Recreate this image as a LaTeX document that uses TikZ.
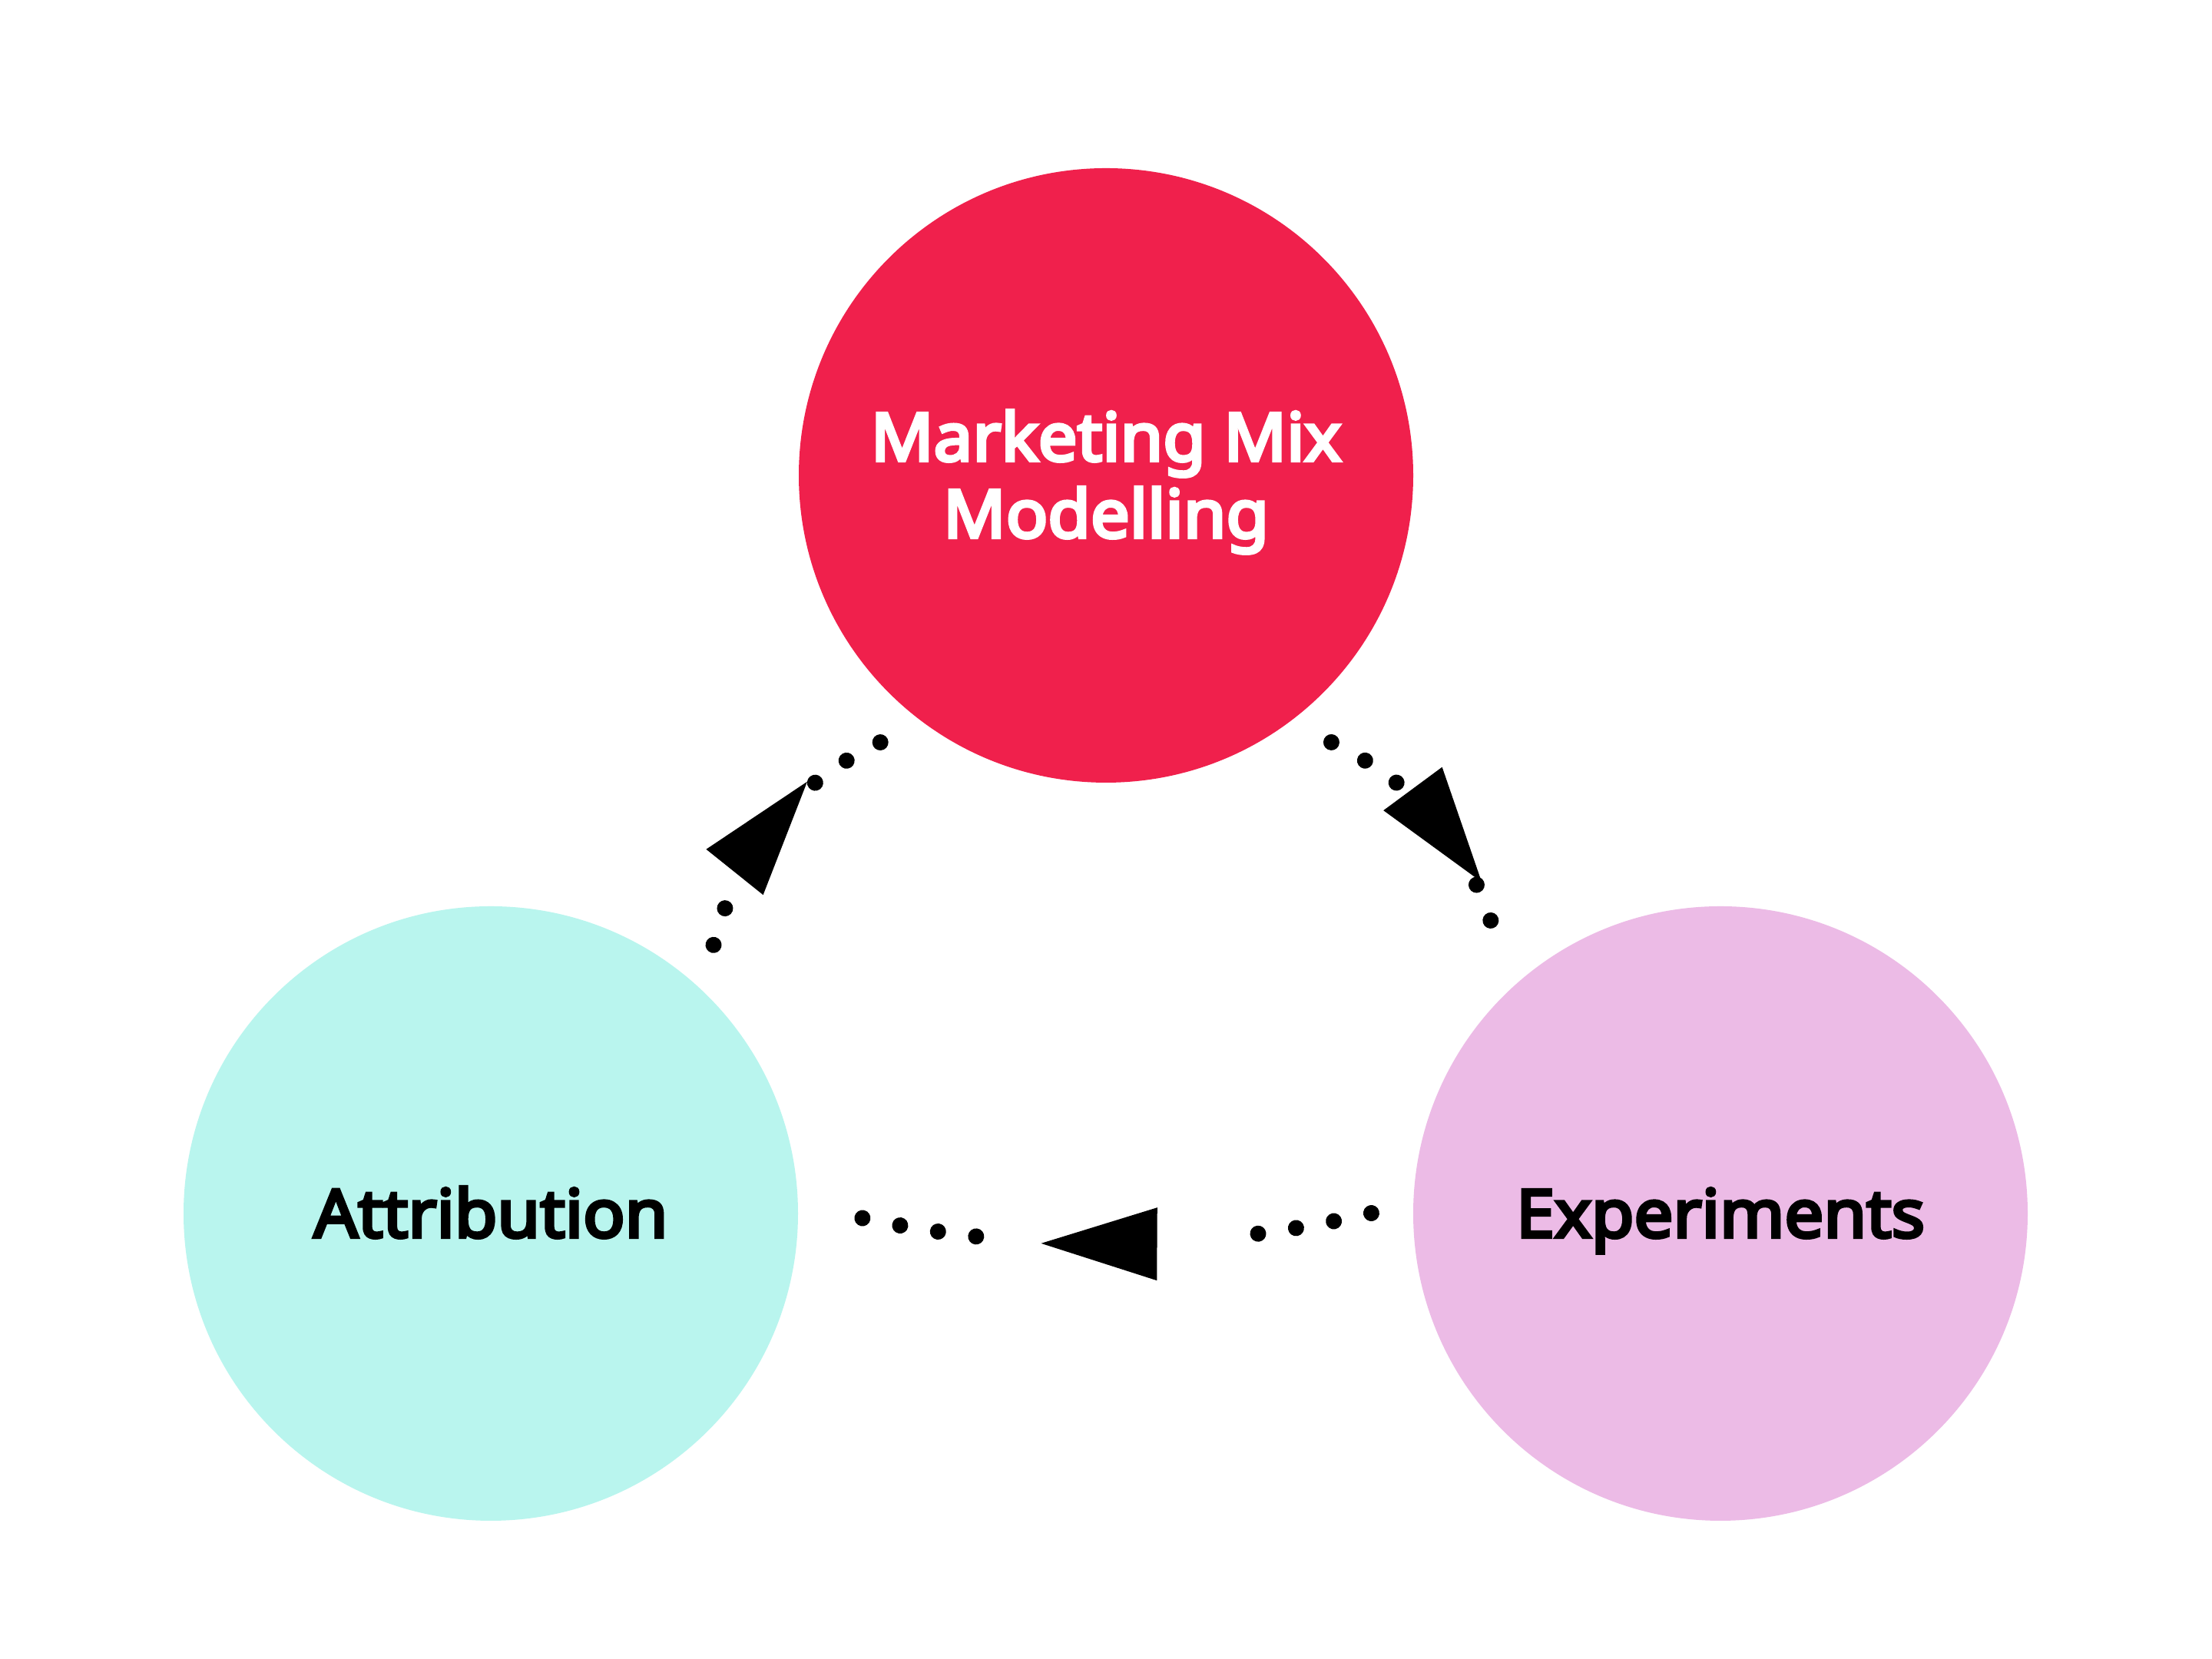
\documentclass[tikz,border=0pt]{standalone}
\usepackage{fontspec}
\setmainfont{Noto Sans}[AutoFakeBold=5, FakeStretch=1.04]
\usetikzlibrary{decorations.markings}
\definecolor{mmmred}{RGB}{240,32,76}
\definecolor{attrcyan}{RGB}{185,245,238}
\definecolor{exptpink}{RGB}{236,187,230}
\newcommand{\pagex}{28.8}
\newcommand{\pagey}{21.6}
\newcommand{\circsize}{8cm}
\newcommand{\dotrad}{0.105cm}
\newcommand{\headlen}{0.755cm}
\newcommand{\headwid}{0.475cm}
\newcommand{\sidestep}{0.1044}
\newcommand{\basestep}{0.0617}
\newcommand{\topstrut}{\rule{0pt}{0.9cm}}
\newcommand{\botstrut}{\rule[-0.28cm]{0pt}{0.28cm}}
\newcommand{\mmmnd}{(14.40,15.41)}
\newcommand{\attrnd}{(6.39,5.80)}
\newcommand{\exptnd}{(22.40,5.80)}
\newcommand{\dotmark}{\fill (0,0) circle (\dotrad);}
\newcommand{\headmark}{
  \fill (-\headlen,\headwid) -- (\headlen,0) -- (-\headlen,-\headwid) -- cycle;
}
\tikzset{
  blob/.style={circle, minimum size=\circsize, inner sep=0pt, align=center,
    font=\fontsize{24.7pt}{28.45pt}\selectfont\bfseries},
  leftarc/.style={decoration={markings,
      mark=between positions 0.1305 and 0.24 step \sidestep with {\dotmark},
      mark=at position 0.49 with {\headmark},
      mark=between positions 0.66 and 0.87 step \sidestep with {\dotmark}},
    decorate},
  rightarc/.style={decoration={markings,
      mark=between positions 0.1305 and 0.35 step \sidestep with {\dotmark},
      mark=at position 0.539 with {\headmark},
      mark=between positions 0.6956 and 0.81 step \sidestep with {\dotmark}},
    decorate},
  basearc/.style={decoration={markings,
      mark=between positions 0.0689 and 0.26 step \basestep with {\dotmark},
      mark=at position 0.5104 with {\headmark},
      mark=between positions 0.7087 and 0.894 step \basestep with {\dotmark}},
    decorate},
}
\begin{document}
\begin{tikzpicture}
    % page
    \path[use as bounding box, fill=white] (0,0) rectangle (\pagex,\pagey);

    % mmm part
    \node (mmm) at \mmmnd [blob, fill=mmmred, text=white]
      {\topstrut Marketing Mix\\Modelling\botstrut};
    % attribution part
    \node (attr) at \attrnd [blob, fill=attrcyan] {\topstrut Attribution\botstrut};
    % experiments part
    \node (expt) at \exptnd [blob, fill=exptpink] {\topstrut Experiments\botstrut};

    % loop
    \path[leftarc] (attr.46) to[bend left=32] (mmm.234);
    \path[rightarc] (mmm.306) to[bend left=32] (expt.134);
    \path[basearc] (expt.178) to[bend left=15, looseness=0.88] (attr.2);
  \end{tikzpicture}
\end{document}
